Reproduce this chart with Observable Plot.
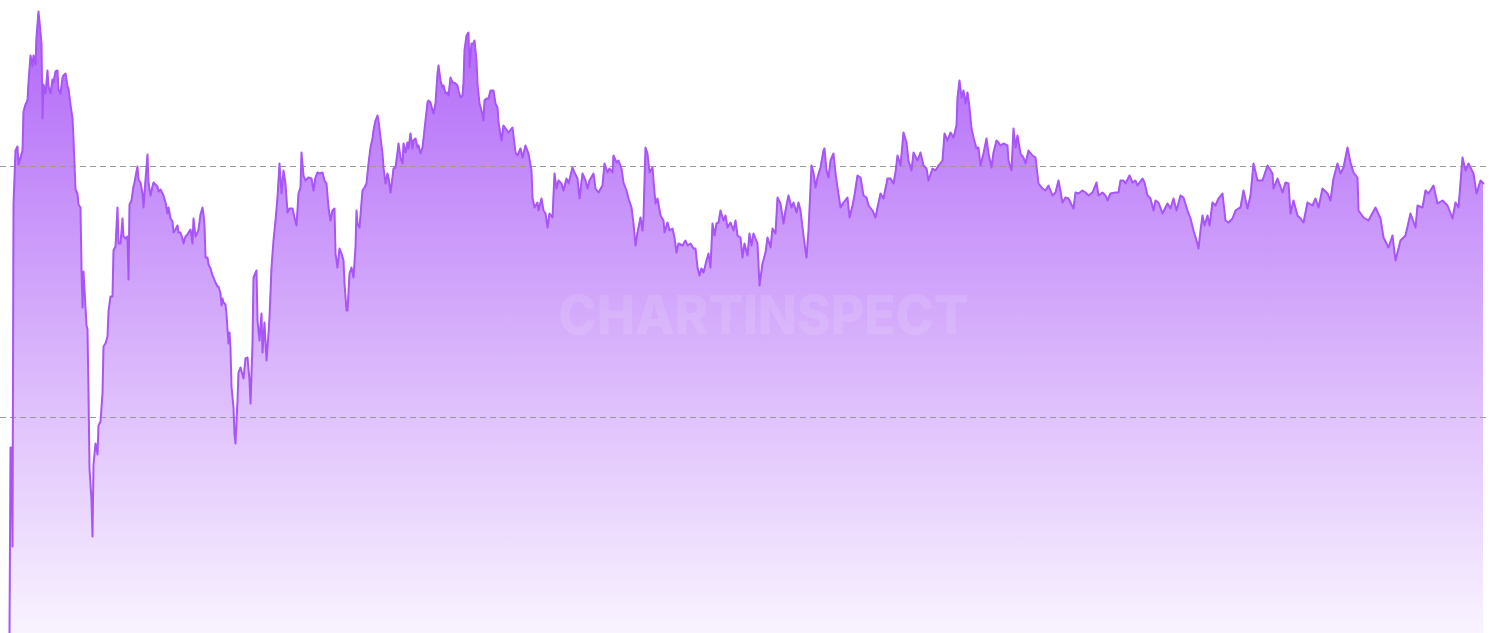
<!DOCTYPE html>
<html>
<head>
<meta charset="utf-8">
<script src="https://cdn.jsdelivr.net/npm/d3@7"></script>
<script src="https://cdn.jsdelivr.net/npm/@observablehq/plot@0.6"></script>
<style>
  html, body { margin: 0; padding: 0; background: #fff; }
  #chart svg { display: block; }
</style>
</head>
<body>
<div id="chart"></div>
<script>
// Sample positions along the time axis (days since start)
const days = [
  0,1,2,3,4,6,8,9,11,13,14,16,18,19,21,23,24,26,27,29,30,32,33,34,36,38,39,41,43,44,46,48,49,51,53,54,56,58,59,61,63,64,66,68,69,71,72,73,74,76,77,78,79,80,82,83,84,86,88,89,91,93,94,96,98,99,101,103,104,106,108,109,111,113,114,116,118,119,120,122,124,125,127,128,129,131,133,134,135,136,138,139,141,143,144,146,148,149,151,153,154,156,158,159,161,163,164,166,168,169,171,173,174,176,178,179,181,183,184,186,188,189,191,193,194,195,196,198,199,201,203,204,206,208,209,211,212,213,214,216,217,218,219,220,221,222,224,225,226,
  228,229,231,234,236,238,240,241,243,244,247,248,250,252,253,255,257,259,260,262,264,266,268,270,272,274,276,278,280,283,285,287,289,291,292,294,296,299,302,304,306,308,310,313,315,317,319,321,323,325,326,328,330,332,334,335,337,338,340,342,344,346,347,348,350,353,355,357,359,361,363,364,366,368,369,371,373,374,376,378,379,381,383,384,386,388,389,391,393,394,396,398,399,401,403,404,406,408,409,411,413,414,416,418,419,421,423,424,426,428,429,431,433,434,436,438,439,441,443,444,446,448,449,451,453,454,455,457,459,460,462,464,465,467,468,470,472,474,475,477,479,481,483,484,486,488,489,
  492,494,499,503,506,508,511,513,516,519,522,523,525,528,529,532,534,536,538,540,543,545,547,549,552,554,557,559,563,565,568,570,573,576,578,580,584,586,589,593,595,598,600,603,604,607,609,612,614,617,619,622,624,626,628,631,633,634,635,636,638,640,643,644,646,648,651,654,655,658,660,663,665,667,669,673,676,678,681,684,686,688,690,692,694,697,699,701,703,705,707,709,711,714,716,718,721,724,726,728,731,733,735,738,
  740,742,744,748,750,753,756,758,761,763,766,768,771,774,776,779,782,784,787,789,791,793,795,797,799,801,802,804,806,808,811,814,815,817,819,821,824,826,828,831,834,838,840,843,845,848,851,854,857,859,863,866,868,871,874,878,881,884,886,888,891,894,897,899,902,904,908,911,914,917,919,923,926,929,933,935,938,941,944,947,948,950,952,954,956,958,960,962,964,967,969,971,974,977,979,982,984,987,989,
  991,994,998,999,1002,1004,1006,1008,1011,1014,1016,1019,1023,1026,1029,1033,1036,1039,1043,1046,1049,1053,1056,1059,1064,1066,1069,1073,1076,1079,1083,1087,1089,1093,1096,1098,1101,1106,1109,1111,1114,1116,1120,1123,1126,1128,1133,1135,1138,1141,1144,1146,1149,1153,1156,1158,1161,1164,1167,1171,1174,1178,1181,1184,1187,1189,1191,1193,1195,1198,1200,1203,1206,1209,1213,1214,1216,1219,1223,1226,1229,
  1231,1234,1238,1241,1244,1248,1253,1258,1263,1264,1268,1273,1276,1279,1281,1284,1288,1291,1294,1298,1303,1306,1309,1313,1318,1321,1324,1328,1331,1334,1338,1341,1344,1348,1349,1354,1359,1366,1371,1374,1379,1383,1386,1391,1396,1401,1406,1408,1413,1416,1419,1424,1428,1433,1438,1443,1446,1449,1453,1456,1459,1464,1467,1471,1474
];

// Series level at each sample
const levels = [
  0,186,186,87,429,483,487,469,476,483,522,529,533,551,578,567,578,569,597,622,612,590,515,549,540,563,547,540,554,551,562,563,544,540,556,558,560,547,545,529,515,494,444,440,429,426,365,326,362,326,308,304,240,165,133,97,169,190,179,208,212,240,287,290,297,322,337,337,383,387,426,390,390,415,397,395,397,354,429,433,447,451,462,467,454,451,440,426,440,454,479,451,438,447,451,449,447,442,444,440,438,431,420,426,415,412,401,404,408,401,401,395,390,397,399,401,404,390,415,397,401,404,419,426,419,408,376,376,369,365,358,356,351,347,347,340,328,335,331,329,319,304,290,301,285,247,226,199,190,
  233,261,266,255,275,276,253,230,290,356,363,313,293,320,281,311,273,300,316,366,393,413,436,470,440,463,450,421,425,425,416,408,440,446,481,458,453,456,455,443,456,461,460,461,453,450,426,413,423,425,380,366,385,380,373,350,323,323,360,366,356,386,423,410,406,443,446,450,470,486,495,503,513,518,513,496,480,466,450,460,456,441,456,465,466,481,490,476,470,490,481,491,485,500,485,493,495,486,488,480,486,495,513,531,533,531,523,520,530,560,568,553,546,548,540,541,538,556,551,551,550,548,543,536,538,551,583,598,601,566,590,590,593,573,550,530,523,513,533,535,535,543,543,543,530,526,511,
  493,508,501,506,481,478,485,476,488,480,463,436,426,431,423,435,423,420,406,420,416,460,445,453,450,443,455,450,466,461,455,435,460,453,445,453,460,445,441,448,470,461,465,461,478,471,473,465,451,443,435,426,410,388,401,416,403,416,453,486,480,461,466,453,430,435,418,413,401,411,403,405,396,381,390,388,393,388,390,385,385,366,358,365,361,373,380,366,410,398,410,411,423,413,418,406,411,403,413,398,396,376,390,378,
  400,388,400,390,348,370,381,396,386,405,400,436,430,410,423,438,426,431,421,431,423,406,390,376,403,446,468,461,446,456,466,483,485,463,456,473,480,460,446,426,431,436,416,428,438,458,456,438,436,428,423,416,426,440,435,455,455,450,461,478,468,501,491,473,463,481,473,481,468,465,453,465,463,468,473,500,493,501,496,508,536,553,536,543,530,541,526,505,496,485,486,468,480,495,480,466,481,493,491,
  488,490,488,473,463,505,486,498,480,476,470,483,478,476,450,445,443,448,438,441,453,431,436,435,425,441,440,443,441,438,441,451,438,441,438,433,440,441,441,453,453,450,458,451,453,448,455,451,438,435,423,433,431,420,426,430,425,435,423,438,436,423,415,403,393,385,403,418,408,418,408,431,428,435,440,431,413,411,415,423,425,
  426,443,425,438,470,453,453,468,460,445,455,441,451,450,420,433,418,415,411,431,428,435,426,445,440,433,455,470,460,466,486,471,461,456,423,416,413,426,415,396,386,398,373,393,398,420,406,428,426,443,440,448,430,433,428,415,431,426,476,463,470,460,440,453,450
];

// Dashed reference levels
const gridLevels = [216, 467];

const watermark = ["CHARTINSPECT"];

const data = days.map((d, i) => ({day: d, level: levels[i]}));

const plot = Plot.plot({
  width: 1490,
  height: 633,
  margin: 0,
  style: {background: "#fff", overflow: "visible"},
  x: {domain: [0, 1474], range: [9, 1483], axis: null},
  y: {domain: [0, 633], axis: null},
  marks: [
    Plot.areaY(data, {x: "day", y: "level", fill: "url(#purpleFade)", curve: "linear"}),
    Plot.text(watermark, {
      frameAnchor: "middle", dx: 18, dy: 0,
      text: d => d,
      fill: "#ffffff", fillOpacity: 0.11,
      fontSize: 54, fontWeight: 800, fontFamily: "Inter, 'Open Sans', sans-serif"
    }),
    Plot.ruleY(gridLevels, {stroke: "#9a9a9a", strokeWidth: 1, strokeDasharray: "6,4"}),
    Plot.lineY(data, {x: "day", y: "level", stroke: "#a855f7", strokeWidth: 2, curve: "linear", strokeLinejoin: "round"})
  ]
});

const svg = d3.select(plot);
const defs = svg.insert("defs", ":first-child");
const grad = defs.append("linearGradient")
  .attr("id", "purpleFade")
  .attr("gradientUnits", "userSpaceOnUse")
  .attr("x1", 0).attr("y1", 10).attr("x2", 0).attr("y2", 633);
grad.append("stop").attr("offset", "0%").attr("stop-color", "#a855f7").attr("stop-opacity", 0.9);
grad.append("stop").attr("offset", "100%").attr("stop-color", "#a855f7").attr("stop-opacity", 0.07);

svg.selectAll("text").filter(function() { return this.textContent === "CHARTINSPECT"; })
  .attr("textLength", 410).attr("lengthAdjust", "spacingAndGlyphs");

document.getElementById("chart").appendChild(plot);
</script>
</body>
</html>
